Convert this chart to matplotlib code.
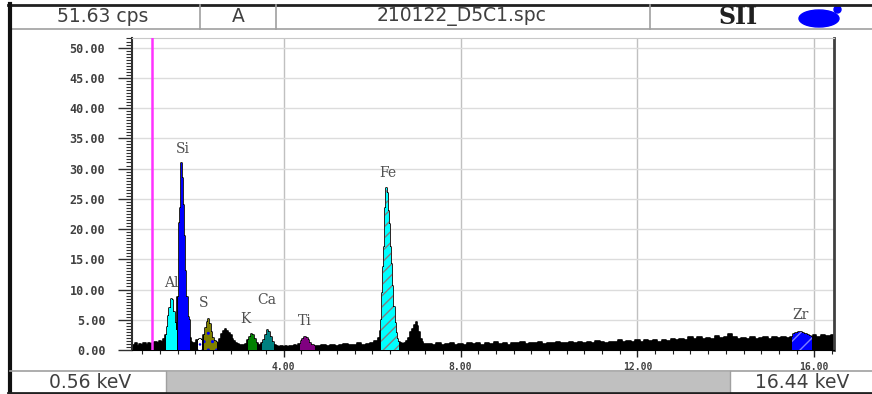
import numpy as np
import matplotlib.pyplot as plt
from matplotlib.patches import Rectangle, Ellipse
from matplotlib.lines import Line2D
from matplotlib.ticker import MultipleLocator

# spectrum (keV, cps)
energy_kev = [
    0.56, 0.60, 0.65, 0.70, 0.75, 0.80, 0.85, 0.90, 0.95, 1.00, 1.05, 1.10, 1.15, 1.20, 1.25, 1.30,
    1.34, 1.37, 1.40, 1.43, 1.46, 1.49, 1.52, 1.55, 1.58,
    1.61, 1.635, 1.66, 1.685, 1.71, 1.735, 1.76, 1.785, 1.81, 1.835, 1.86, 1.885,
    1.91, 1.95, 2.00,
    2.05, 2.10, 2.15, 2.20, 2.24, 2.27, 2.30, 2.33, 2.36, 2.40, 2.44, 2.48,
    2.52, 2.56, 2.60, 2.64, 2.68, 2.72, 2.76, 2.80, 2.84, 2.88, 2.92, 2.96, 3.00, 3.05, 3.10,
    3.15, 3.19, 3.23, 3.27, 3.31, 3.35, 3.39, 3.43, 3.47,
    3.51, 3.55, 3.59, 3.63, 3.67, 3.71, 3.75, 3.79,
    3.85, 3.90, 3.95, 4.00, 4.05, 4.10, 4.15, 4.20, 4.25, 4.30,
    4.36, 4.40, 4.44, 4.48, 4.52, 4.56, 4.60, 4.65, 4.70,
    4.80, 4.90, 5.00, 5.10, 5.20, 5.30, 5.40, 5.50, 5.60, 5.70, 5.80, 5.90, 6.00, 6.10, 6.15,
    6.19, 6.21, 6.23, 6.25, 6.27, 6.29, 6.31, 6.33, 6.35, 6.37, 6.40, 6.42, 6.44, 6.46, 6.49,
    6.52, 6.55, 6.58, 6.61,
    6.65, 6.70, 6.75, 6.80,
    6.84, 6.88, 6.92, 6.96, 7.00, 7.03, 7.06, 7.10, 7.14, 7.18,
    7.3, 7.4, 7.5, 7.6, 7.7, 7.8, 7.9, 8.0, 8.1, 8.2, 8.3, 8.4, 8.5, 8.6, 8.7, 8.8, 8.9,
    9.0, 9.1, 9.2, 9.3, 9.4, 9.5, 9.6, 9.7, 9.8, 9.9, 10.0, 10.1, 10.2, 10.3, 10.4, 10.5,
    10.6, 10.7, 10.8, 10.9, 11.0, 11.1, 11.2, 11.3, 11.4, 11.5, 11.6, 11.7, 11.8, 11.9,
    12.0, 12.1, 12.2, 12.3, 12.4, 12.5, 12.6, 12.7, 12.8, 12.9, 13.0, 13.1, 13.2, 13.3,
    13.4, 13.5, 13.6, 13.7, 13.8, 13.9, 14.0, 14.1, 14.2, 14.3, 14.4, 14.5, 14.6, 14.7,
    14.8, 14.9, 15.0, 15.1, 15.2, 15.3, 15.4,
    15.5, 15.55, 15.6, 15.65, 15.7, 15.75, 15.8, 15.85, 15.9, 15.95,
    16.0, 16.1, 16.2, 16.3, 16.44,
]
cps = [
    0.9, 0.8, 1.1, 0.7, 1.0, 0.8, 1.2, 0.9, 1.1, 1.0, 1.2, 1.3, 1.1, 1.5, 1.4, 1.8,
    2.5, 3.8, 5.6, 7.0, 8.5, 8.2, 6.3, 4.5, 3.3,
    8.8, 21.0, 23.5, 30.9, 28.4, 24.0, 18.9, 13.1, 8.7, 5.5, 4.9, 2.0,
    1.4, 1.2, 1.1,
    1.6, 1.9, 1.7, 2.4, 3.6, 4.6, 5.2, 4.3, 3.0, 2.0, 1.5, 1.3,
    1.2, 1.9, 2.6, 3.1, 3.4, 3.2, 2.8, 2.4, 1.9, 1.5, 1.2, 1.0, 0.9, 0.8, 0.9,
    1.0, 1.6, 2.2, 2.7, 2.5, 1.8, 1.2, 0.9, 0.8,
    1.1, 1.7, 2.5, 3.3, 3.0, 2.1, 1.3, 0.9,
    0.6, 0.5, 0.7, 0.5, 0.6, 0.5, 0.7, 0.6, 0.8, 0.7,
    1.0, 1.5, 1.9, 2.2, 2.0, 1.6, 1.1, 0.8, 0.7,
    0.6, 0.8, 0.7, 0.9, 0.7, 0.8, 1.0, 0.8, 0.9, 1.1, 0.9, 1.0, 1.2, 1.5, 2.0,
    3.2, 4.9, 9.5, 13.7, 17.0, 20.8, 23.5, 26.8, 26.0, 23.0, 20.8, 17.0, 14.3, 10.5, 7.1,
    4.5, 2.8, 1.8, 1.3,
    1.1, 1.0, 1.2, 1.5,
    2.0, 2.9, 3.5, 4.1, 4.6, 4.0, 3.0, 1.9, 1.3, 1.0,
    1.0, 0.9, 1.1, 0.8, 1.0, 1.2, 0.9, 1.0, 0.8, 1.1, 1.0, 1.2, 0.9, 1.1, 1.0, 1.3, 1.0,
    1.1, 0.9, 1.2, 1.1, 1.3, 1.0, 1.2, 1.1, 1.3, 1.0, 1.2, 1.1, 1.3, 1.2, 1.1, 1.3,
    1.2, 1.4, 1.1, 1.3, 1.2, 1.5, 1.3, 1.2, 1.4, 1.3, 1.7, 1.4, 1.5, 1.3,
    1.6, 1.4, 1.7, 1.5, 1.6, 1.4, 1.7, 1.5, 1.8, 1.6, 1.9, 1.7, 2.1, 1.9,
    2.2, 1.8, 2.0, 1.9, 2.3, 2.0, 2.2, 2.7, 2.1, 1.9, 2.0, 1.8, 2.1, 1.9,
    2.0, 2.2, 1.9, 2.1, 2.0, 2.2, 2.0,
    2.2, 2.6, 2.8, 3.0, 3.0, 2.8, 2.6, 2.4, 2.3, 2.2,
    2.4, 2.2, 2.5, 2.3, 2.4,
]

# region of interest fills: (low keV, high keV), face colour, hatch, hatch colour
roi_ranges = [(1.31, 1.60), (1.60, 1.895), (2.03, 2.17), (2.17, 2.48), (3.16, 3.42),
              (3.50, 3.80), (4.33, 4.71), (6.18, 6.61), (7.02, 7.04), (15.49, 15.98)]
roi_colors = ['#00ffff', '#0000ff', '#ffffff', '#808000', '#008000',
              '#008080', '#800080', '#00ffff', '#00ffff', '#0000ff']
roi_hatches = [None, None, '...', '..', None, None, None, '///', None, '//']
roi_hatch_colors = ['none', 'none', '#0000ff', '#0000ff', 'none',
                    'none', 'none', '#808080', 'none', '#8080ff']

peak_labels = ['Al', 'Si', 'S', 'K', 'Ca', 'Ti', 'Fe', 'Zr']
label_kev = [1.45, 1.71, 2.18, 3.14, 3.61, 4.48, 6.35, 15.68]
label_cps = [11.0, 33.3, 7.8, 5.2, 8.3, 4.8, 29.3, 5.75]

marker_kev = 1.02
x_range = (0.56, 16.44)
y_top = 51.63

W, H = 872, 394
fig = plt.figure(figsize=(W / 100, H / 100), dpi=100)


def fx(x):
    return x / W


def fy(y):
    return 1 - y / H


# plot area
ax = fig.add_axes([fx(131.7), fy(350), fx(833.7) - fx(131.7), fy(37.7) - fy(350)])
e = np.array(energy_kev)
c = np.array(cps)

ax.fill_between(e, 0, c, step='mid', color='black', lw=0, zorder=2)
ax.step(e, c, where='mid', color='black', lw=1.2, zorder=2)

for (lo, hi), col, hat, hc in zip(roi_ranges, roi_colors, roi_hatches, roi_hatch_colors):
    mask = (e >= lo) & (e <= hi)
    if hat:
        plt.rcParams['hatch.color'] = hc
        ax.fill_between(e, 0, c, where=mask, step='mid', facecolor=col,
                        edgecolor=hc, hatch=hat, lw=0, zorder=3)
    else:
        ax.fill_between(e, 0, c, where=mask, step='mid', color=col, lw=0, zorder=3)

for lab, xk, yc in zip(peak_labels, label_kev, label_cps):
    ax.text(xk, yc, lab, ha='center', va='center', fontsize=10,
            family='DejaVu Serif', color='#505050', zorder=1.5)

ax.axvline(marker_kev, color='#ff33ff', lw=1.8, zorder=4)

ax.set_xlim(*x_range)
ax.set_ylim(0, y_top)

ax.yaxis.set_major_locator(MultipleLocator(5))
ax.yaxis.set_minor_locator(MultipleLocator(0.5))
ax.xaxis.set_major_locator(MultipleLocator(4))
ax.xaxis.set_minor_locator(MultipleLocator(0.4))
ax.yaxis.set_major_formatter(lambda v, p: f'{v:.2f}')
ax.xaxis.set_major_formatter(lambda v, p: f'{v:.2f}')

ax.grid(axis='y', which='major', color='#dcdcdc', lw=1, zorder=0)
ax.grid(axis='x', which='major', color='#c0c0c0', lw=1, zorder=0)
ax.set_axisbelow(True)

ax.tick_params(axis='y', which='major', length=10, width=1, color='#303030',
               labelsize=8.5, labelcolor='#404040', pad=9)
ax.tick_params(axis='y', which='minor', length=4, width=0.8, color='#303030')
ax.tick_params(axis='x', which='major', length=5, width=1, color='#202020',
               labelsize=7, labelcolor='#404040', pad=4)
ax.tick_params(axis='x', which='minor', length=3, width=0.8, color='#202020')
for lab in ax.get_yticklabels() + ax.get_xticklabels():
    lab.set_family('DejaVu Sans Mono')
    lab.set_weight('bold')

ax.spines['top'].set_color('#c8c8c8')
ax.spines['left'].set_color('#303030')
ax.spines['left'].set_linewidth(1.5)
ax.spines['right'].set_color('#404040')
ax.spines['right'].set_linewidth(2)
ax.spines['bottom'].set_color('black')

# header and footer frame
gray = '#a0a0a0'
fig.add_artist(Line2D([fx(8), fx(872)], [fy(4.5), fy(4.5)], color='#202020', lw=2))
fig.add_artist(Line2D([fx(10), fx(872)], [fy(29), fy(29)], color=gray, lw=1.2))
for xd in [200, 276, 650]:
    fig.add_artist(Line2D([fx(xd), fx(xd)], [fy(4.5), fy(29)], color=gray, lw=1.2))
fig.add_artist(Line2D([fx(9.5), fx(9.5)], [fy(4), fy(394)], color='#101010', lw=3))

header_font = dict(family='DejaVu Sans', fontsize=13.5, color='#404040',
                   va='center', ha='center')
fig.text(fx(103), fy(16.5), '51.63 cps', **header_font)
fig.text(fx(238), fy(16.5), 'A', **header_font)
fig.text(fx(462), fy(16.5), '210122_D5C1.spc', **header_font)
fig.text(fx(738), fy(17), 'SII', family='DejaVu Serif', fontsize=17, weight='bold',
         color='#202020', va='center', ha='center')
fig.add_artist(Ellipse((fx(819), fy(18.5)), fx(40), 17 / H, color='#0000ff'))
fig.add_artist(Ellipse((fx(837.5), fy(9.5)), fx(7), 7 / H, color='#0000ff'))

fig.add_artist(Line2D([fx(10), fx(872)], [fy(371), fy(371)], color=gray, lw=1.2))
fig.add_artist(Rectangle((fx(166), fy(392)), fx(730) - fx(166), fy(371.5) - fy(392),
                         color='#c0c0c0', lw=0))
fig.add_artist(Line2D([fx(166), fx(166)], [fy(371), fy(393)], color=gray, lw=1))
fig.add_artist(Line2D([fx(730), fx(730)], [fy(371), fy(393)], color=gray, lw=1))
fig.add_artist(Line2D([fx(8), fx(872)], [fy(393), fy(393)], color='#202020', lw=2))
fig.text(fx(90), fy(382.5), '0.56 keV', **header_font)
fig.text(fx(802), fy(382.5), '16.44 keV', **header_font)

fig.savefig('out.png', dpi=100)
